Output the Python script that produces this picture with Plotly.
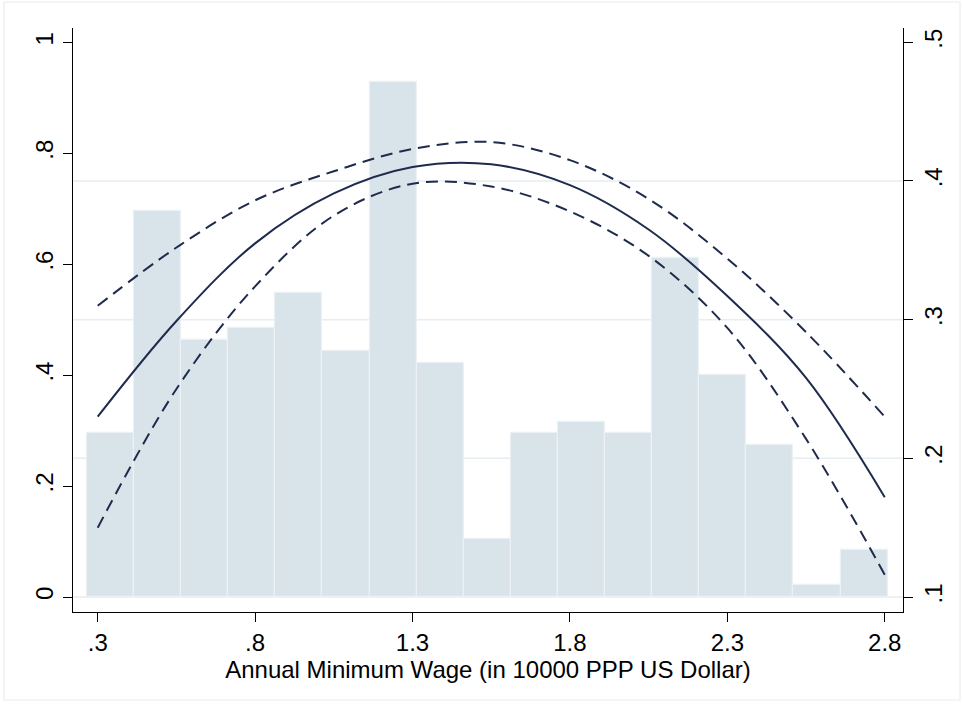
import plotly.graph_objects as go

# Histogram of annual minimum wage (frequency per bin), bins of equal width
bin_start = 0.266
bin_width = 0.1496
bin_counts = [14, 33, 22, 23, 26, 21, 44, 20, 5, 14, 15, 14, 29, 19, 13, 1, 4]

# Quadratic fit with 95% CI (right axis)
fit_x = [0.3, 0.55, 0.8, 1.05, 1.3, 1.55, 1.8, 2.05, 2.3, 2.55, 2.8]
fit_y = [0.230, 0.299, 0.355, 0.391, 0.410, 0.412, 0.397, 0.365, 0.317, 0.258, 0.172]
ci_upper = [0.310, 0.352, 0.386, 0.407, 0.423, 0.428, 0.415, 0.387, 0.344, 0.291, 0.230]
ci_lower = [0.150, 0.250, 0.324, 0.375, 0.398, 0.396, 0.378, 0.346, 0.294, 0.214, 0.116]

x_ticks = [0.3, 0.8, 1.3, 1.8, 2.3, 2.8]
x_ticktext = [".3", ".8", "1.3", "1.8", "2.3", "2.8"]
y_ticks = [0, 0.2, 0.4, 0.6, 0.8, 1.0]
y_ticktext = ["0", ".2", ".4", ".6", ".8", "1"]
y2_ticks = [0.1, 0.2, 0.3, 0.4, 0.5]
y2_ticktext = [".1", ".2", ".3", ".4", ".5"]
grid_values = [0.1, 0.2, 0.3, 0.4]

x_title = "Annual Minimum Wage (in 10000 PPP US Dollar)"

n_obs = sum(bin_counts)
density = [c / (n_obs * bin_width) for c in bin_counts]
centers = [bin_start + bin_width * (i + 0.5) for i in range(len(bin_counts))]

LINE = "#1f2b4c"
BAR_FILL = "#d8e4ea"
BAR_EDGE = "#ebf1f4"
GRID = "#e6eef1"
FONT = dict(family="Liberation Sans, Arial, sans-serif", size=24, color="#000000")

fig = go.Figure()

fig.add_trace(go.Bar(
    x=centers, y=density, width=bin_width,
    marker=dict(color=BAR_FILL, line=dict(color=BAR_EDGE, width=1.2)),
    yaxis="y", showlegend=False, hoverinfo="skip",
))

for ys, dash in [(ci_upper, "12px,7px"), (ci_lower, "12px,7px"), (fit_y, "solid")]:
    fig.add_trace(go.Scatter(
        x=fit_x, y=ys, mode="lines", yaxis="y2",
        line=dict(color=LINE, width=2, dash=dash, shape="spline", smoothing=1.0),
        showlegend=False, hoverinfo="skip",
    ))

shapes = []
for g in grid_values:
    shapes.append(dict(
        type="line", xref="paper", x0=0, x1=1, yref="y2", y0=g, y1=g,
        line=dict(color=GRID, width=1.5), layer="below",
    ))
# faint frame around the whole graph region
shapes.append(dict(
    type="rect", xref="paper", yref="paper",
    x0=-0.0831, x1=1.0687, y0=-0.1507, y1=1.0445,
    line=dict(color="#e8eef1", width=1.2), layer="below",
))

axis_common = dict(
    showline=True, linecolor="#000000", linewidth=1.3,
    ticks="outside", ticklen=9, tickwidth=1.3, tickcolor="#000000",
    tickfont=FONT, zeroline=False, showgrid=False,
)

fig.update_layout(
    width=963, height=705,
    margin=dict(l=73, r=60, t=28, b=93),
    paper_bgcolor="#ffffff", plot_bgcolor="#ffffff",
    bargap=0, shapes=shapes, font=FONT,
    xaxis=dict(
        range=[0.2215, 2.858], tickvals=x_ticks, ticktext=x_ticktext,
        title=dict(text=x_title, font=FONT, standoff=2),
        **axis_common,
    ),
    yaxis=dict(
        range=[-0.02704, 1.0258], tickvals=y_ticks, ticktext=y_ticktext,
        tickangle=-90, **axis_common,
    ),
    yaxis2=dict(
        range=[0.08918, 0.5103], tickvals=y2_ticks, ticktext=y2_ticktext,
        tickangle=-90, overlaying="y", side="right", **axis_common,
    ),
)

fig.write_html("out.html")
